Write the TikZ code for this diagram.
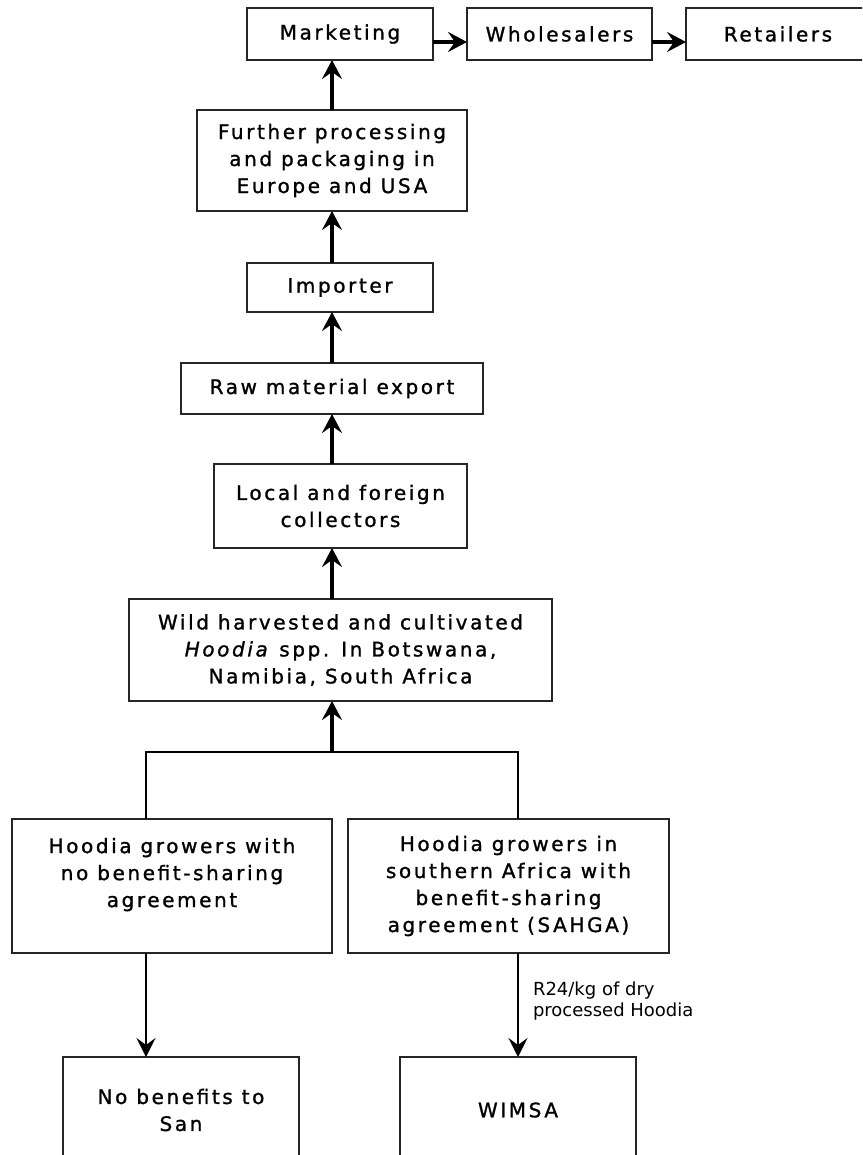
\documentclass[tikz,border=0pt]{standalone}
\usepackage{fontspec}
\setmainfont{DejaVu Sans}[LetterSpace=13, FakeBold=1.2, ItalicFont={DejaVu Sans Oblique}]
\newfontfamily\notefont{DejaVu Sans}
\usetikzlibrary{positioning, arrows.meta}

\begin{document}
\begin{tikzpicture}[
        x=1pt, y=-1pt,
        stage/.style={rectangle, draw=black!85, line width=1.3pt, inner sep=2pt, outer sep=0pt, align=center, font=\fontsize{20}{27}\selectfont},
        arrow/.style={-{Stealth[length=19pt, width=20pt, inset=7pt]}, line width=3.2pt},
        thinarrow/.style={-{Stealth[length=19pt, width=19pt, inset=7pt]}, line width=2pt},
        branch/.style={line width=1.3pt},
        note/.style={font=\notefont\fontsize{18}{21.7}\selectfont, align=left, inner sep=0pt},
    ]
    \clip (0,0) rectangle (862,1155);

    % ====== top row: Marketing -> Wholesalers -> Retailers ======
    \node[stage, minimum width=186pt, minimum height=52pt] (market) at (340,34) {Marketing};
    \node[stage, minimum width=185pt, minimum height=52pt, right=34pt of market] (whole) {Wholesalers};
    \node[stage, minimum width=184pt, minimum height=52pt, right=34pt of whole] (retail) {Retailers};

    % ====== main column ======
    \node[stage, minimum width=270pt, minimum height=101pt, below=50pt of market, xshift=-8pt] (further) {Further processing\\and packaging in\\Europe and USA};
    \node[stage, minimum width=186pt, minimum height=49pt, below=52pt of further, xshift=8pt] (importer) {Importer};
    \node[stage, minimum width=302pt, minimum height=51pt, below=51pt of importer, xshift=-8pt] (raw) {Raw material export};
    \node[stage, minimum width=253pt, minimum height=84pt, below=50pt of raw, xshift=8.5pt] (local) {Local and foreign\\collectors};
    \node[stage, minimum width=423pt, minimum height=102pt, below=51pt of local] (wild) {Wild harvested and cultivated\\\textit{Hoodia} spp. In Botswana,\\Namibia, South Africa};

    \coordinate (junction) at (332,752);

    % ====== growers and beneficiaries ======
    \node[stage, minimum width=320pt, minimum height=134pt] (lgrow) at (172,886) {Hoodia growers with\\no benefit-sharing\\agreement\\\mbox{}};
    \node[stage, minimum width=321pt, minimum height=134pt, right=16pt of lgrow] (rgrow) {Hoodia growers in\\southern Africa with\\benefit-sharing\\agreement (SAHGA)};

    \node[stage, minimum width=236pt, minimum height=106pt] (nosan) at (181,1110) {No benefits to\\San};
    \node[stage, minimum width=236pt, minimum height=106pt, right=101pt of nosan] (wimsa) {WIMSA};

    % ====== arrows ======
    % top row
    \draw[arrow] ([yshift=-8pt]market.east) -- ([yshift=-8pt]whole.west);
    \draw[arrow] ([yshift=-8pt]whole.east)  -- ([yshift=-8pt]retail.west);

    % column, upwards
    \draw[arrow] (further.north -| junction)  -- (market.south -| junction);
    \draw[arrow] (importer.north -| junction) -- (further.south -| junction);
    \draw[arrow] (raw.north -| junction)      -- (importer.south -| junction);
    \draw[arrow] (local.north -| junction)    -- (raw.south -| junction);
    \draw[arrow] (wild.north -| junction)     -- (local.south -| junction);
    \draw[arrow] (junction)                   -- (wild.south -| junction);

    % branch from both grower boxes
    \draw[branch] ([xshift=-26pt]lgrow.north) |- (junction) -| ([xshift=9.5pt]rgrow.north);

    % downwards to the San
    \draw[thinarrow] ([xshift=-26pt]lgrow.south) -- ([xshift=-26pt]lgrow.south |- nosan.north);
    \draw[thinarrow] ([xshift=9.5pt]rgrow.south) -- node[note, anchor=west, xshift=14pt, yshift=4pt] {R24/kg of dry\\processed Hoodia} ([xshift=9.5pt]rgrow.south |- wimsa.north);
\end{tikzpicture}
\end{document}
